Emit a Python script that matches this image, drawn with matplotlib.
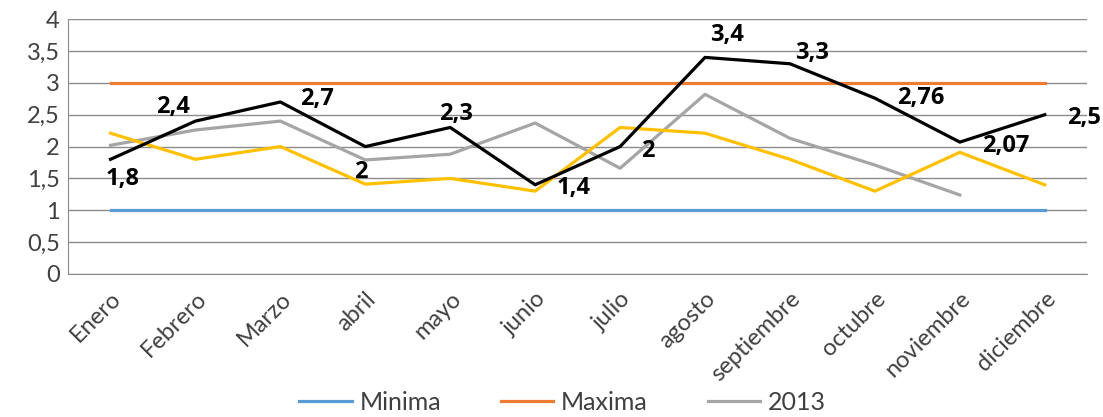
import numpy as np
import matplotlib
matplotlib.use("Agg")
import matplotlib.pyplot as plt

plt.rcParams['font.family'] = ['Lato', 'DejaVu Sans']

meses = ["Enero", "Febrero", "Marzo", "abril", "mayo", "junio", "julio",
         "agosto", "septiembre", "octubre", "noviembre", "diciembre"]

minima = [1] * 12
maxima = [3] * 12
s2013 = [2.02, 2.26, 2.4, 1.79, 1.88, 2.37, 1.66, 2.82, 2.13, 1.71, 1.24, np.nan]
amarilla = [2.21, 1.8, 2.0, 1.41, 1.5, 1.3, 2.3, 2.21, 1.8, 1.3, 1.91, 1.4]
negra = [1.8, 2.4, 2.7, 2.0, 2.3, 1.4, 2.0, 3.4, 3.3, 2.76, 2.07, 2.5]

# label offsets in points (dx, dy) for the black series
offsets = [(9, -14), (-16, 10), (26, 2), (-3, -18), (4, 10), (28, -2),
           (20, -3), (16, 16), (16, 8), (33, 0), (33, -3), (28, -2)]

fig = plt.figure(figsize=(11.03, 4.17), dpi=100)
ax = fig.add_axes([0.0617, 0.343, 0.924, 0.611])

x = np.arange(len(meses))
lw = 2.3
ax.plot(x, minima, color="#5B9BD5", lw=lw, label="Minima")
ax.plot(x, maxima, color="#ED7D31", lw=lw, label="Maxima")
ax.plot(x, s2013, color="#A5A5A5", lw=lw, label="2013")
ax.plot(x, amarilla, color="#FFC000", lw=lw)
ax.plot(x, negra, color="black", lw=lw)

for xi, v, (dx, dy) in zip(x, negra, offsets):
    txt = f"{v:g}".replace(".", ",")
    ax.annotate(txt, (xi, v), xytext=(dx, dy), textcoords="offset points",
                ha="center", va="center", fontsize=17, fontweight="bold",
                family=["Open Sans", "DejaVu Sans"])

ax.set_xlim(-0.5, len(meses) - 0.5)
ax.set_ylim(0, 4)
yt = np.arange(0, 4.01, 0.5)
ax.set_yticks(yt)
ax.set_yticklabels([f"{t:g}".replace(".", ",") for t in yt], fontsize=17, color="#404040")
ax.set_xticks(x)
ax.set_xticklabels(meses, rotation=45, ha="right", rotation_mode="anchor", fontsize=17, color="#404040")
ax.tick_params(length=0, pad=6)
ax.tick_params(axis="x", pad=10)
ax.grid(axis="y", color="#8c8c8c", lw=1)
ax.set_axisbelow(True)
for s in ["top", "right"]:
    ax.spines[s].set_visible(False)
for s in ["left", "bottom"]:
    ax.spines[s].set_color("#8c8c8c")

fig.legend(loc="center", bbox_to_anchor=(0.51, 0.035), ncol=3, frameon=False,
           fontsize=18, handlelength=2.1, handletextpad=0.3, columnspacing=2.4,
           labelcolor="#404040", borderpad=0.1)

fig.savefig("out.png", dpi=100)
